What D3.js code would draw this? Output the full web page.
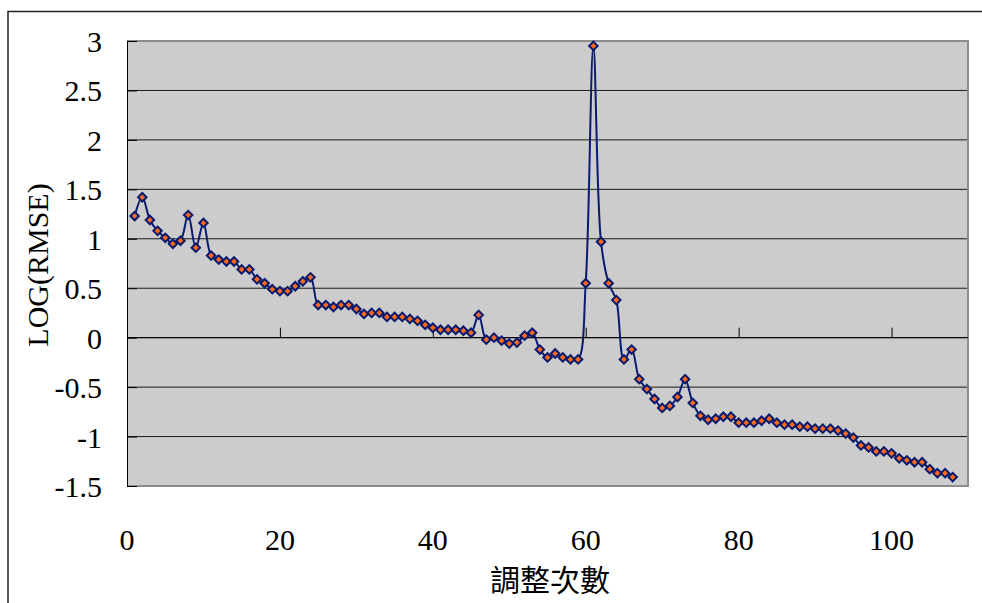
<!DOCTYPE html>
<html>
<head>
<meta charset="utf-8"/>
<title>LOG(RMSE)</title>
<script src="https://d3js.org/d3.v7.min.js"></script>
<style>
    body {margin:0; background-color:white;}
    #canvas {display:block;}
    text {font-family:"Liberation Serif","Times New Roman",serif; fill:#000;}
    .cjk {font-family:"Noto Sans CJK TC","Noto Sans CJK SC",serif;}
</style>
</head>
<body>
<svg id="canvas" width="982" height="603"></svg>
<script>

// y values per adjustment (x = index + 1)
var logRmse = [1.23, 1.42, 1.19, 1.08, 1.01, 0.95, 0.98, 1.24, 0.91, 1.16,
               0.83, 0.79, 0.77, 0.77, 0.69, 0.69, 0.59, 0.55, 0.49, 0.47,
               0.47, 0.52, 0.57, 0.61, 0.33, 0.33, 0.31, 0.33, 0.33, 0.29,
               0.24, 0.25, 0.25, 0.21, 0.21, 0.21, 0.19, 0.17, 0.13, 0.10,
               0.08, 0.08, 0.08, 0.07, 0.05, 0.23, -0.02, 0.00, -0.03, -0.06,
               -0.05, 0.02, 0.05, -0.12, -0.20, -0.16, -0.20, -0.22, -0.22, 0.55,
               2.95, 0.97, 0.55, 0.38, -0.22, -0.12, -0.42, -0.52, -0.62, -0.71,
               -0.69, -0.60, -0.42, -0.66, -0.79, -0.83, -0.82, -0.80, -0.80, -0.86,
               -0.86, -0.86, -0.84, -0.82, -0.86, -0.88, -0.88, -0.90, -0.90, -0.92,
               -0.92, -0.92, -0.94, -0.97, -1.01, -1.09, -1.11, -1.15, -1.15, -1.17,
               -1.22, -1.24, -1.26, -1.26, -1.33, -1.37, -1.37, -1.41]
var xTicks = [0, 20, 40, 60, 80, 100]
var yTicks = [-1.5, -1, -0.5, 0, 0.5, 1, 1.5, 2, 2.5, 3]
var xTitle = "調整次數"
var yTitle = "LOG(RMSE)"

var svg = d3.select("#canvas")
var pL = 127, pR = 968, pT = 41, pB = 486

var x = d3.scaleLinear([0, 110], [pL, pR])
var y = d3.scaleLinear([-1.5, 3], [pB, pT])

// outer chart frame (only top and left visible)
svg.append("path")
    .attr("d", "M8,603 L8,11.5 L982,11.5")
    .attr("fill", "none")
    .attr("stroke", "#222")
    .attr("stroke-width", 1.5)

// plot area
svg.append("rect")
    .attr("x", pL).attr("y", pT)
    .attr("width", pR - pL).attr("height", pB - pT)
    .attr("fill", "#cccccc")

// gridlines
svg.append("g")
    .selectAll("line")
    .data(yTicks)
    .join("line")
    .attr("x1", pL).attr("x2", pR)
    .attr("y1", d => y(d)).attr("y2", d => y(d))
    .attr("stroke", "#1a1a1a")
    .attr("stroke-width", 1)

// plot border right / top / bottom in gray
svg.append("path")
    .attr("d", "M" + pL + "," + pT + " L" + pR + "," + pT + " L" + pR + "," + pB + " L" + pL + "," + pB)
    .attr("fill", "none")
    .attr("stroke", "#8c8c8c")
    .attr("stroke-width", 2)

// y axis, ticks inside
var yAxis = svg.append("g")
    .attr("transform", "translate(" + pL + ",0)")
    .call(d3.axisRight(y).tickValues(yTicks).tickSize(10).tickFormat(""))
yAxis.select(".domain").attr("stroke", "#000")
yAxis.selectAll("line").attr("stroke", "#000")

svg.append("g")
    .selectAll("text")
    .data(yTicks)
    .join("text")
    .attr("x", 102)
    .attr("y", d => y(d) + 11)
    .attr("text-anchor", "end")
    .style("font-size", "30px")
    .text(d => d)

// x axis crosses at y = 0, ticks pointing up
var xAxis = svg.append("g")
    .attr("transform", "translate(0," + y(0) + ")")
    .call(d3.axisTop(x).tickValues(xTicks).tickSize(10).tickFormat(""))
xAxis.select(".domain").attr("stroke", "#000").attr("d", "M" + pL + ",0H" + pR)
xAxis.selectAll("line").attr("stroke", "#000")

svg.append("g")
    .selectAll("text")
    .data(xTicks)
    .join("text")
    .attr("x", d => x(d))
    .attr("y", 550)
    .attr("text-anchor", "middle")
    .style("font-size", "30px")
    .text(d => d)

// axis titles
svg.append("text")
    .attr("class", "cjk")
    .attr("x", 550)
    .attr("y", 591)
    .attr("text-anchor", "middle")
    .style("font-size", "30px")
    .text(xTitle)

svg.append("text")
    .attr("transform", "translate(48,265) rotate(-90)")
    .attr("text-anchor", "middle")
    .style("font-size", "30px")
    .text(yTitle)

// smoothed line
var line = d3.line()
    .x((d, i) => x(i + 1))
    .y(d => y(d))
    .curve(d3.curveCatmullRom.alpha(0.5))

svg.append("path")
    .datum(logRmse)
    .attr("d", line)
    .attr("fill", "none")
    .attr("stroke", "#0a1a6e")
    .attr("stroke-width", 2)

// diamond markers
var sym = d3.symbol().type(d3.symbolSquare).size(36)
svg.append("g")
    .selectAll("path")
    .data(logRmse)
    .join("path")
    .attr("d", sym)
    .attr("transform", (d, i) => "translate(" + x(i + 1) + "," + y(d) + ") rotate(45)")
    .attr("fill", "#ff6a1a")
    .attr("stroke", "#0a1a6e")
    .attr("stroke-width", 2)

</script>
</body>
</html>
